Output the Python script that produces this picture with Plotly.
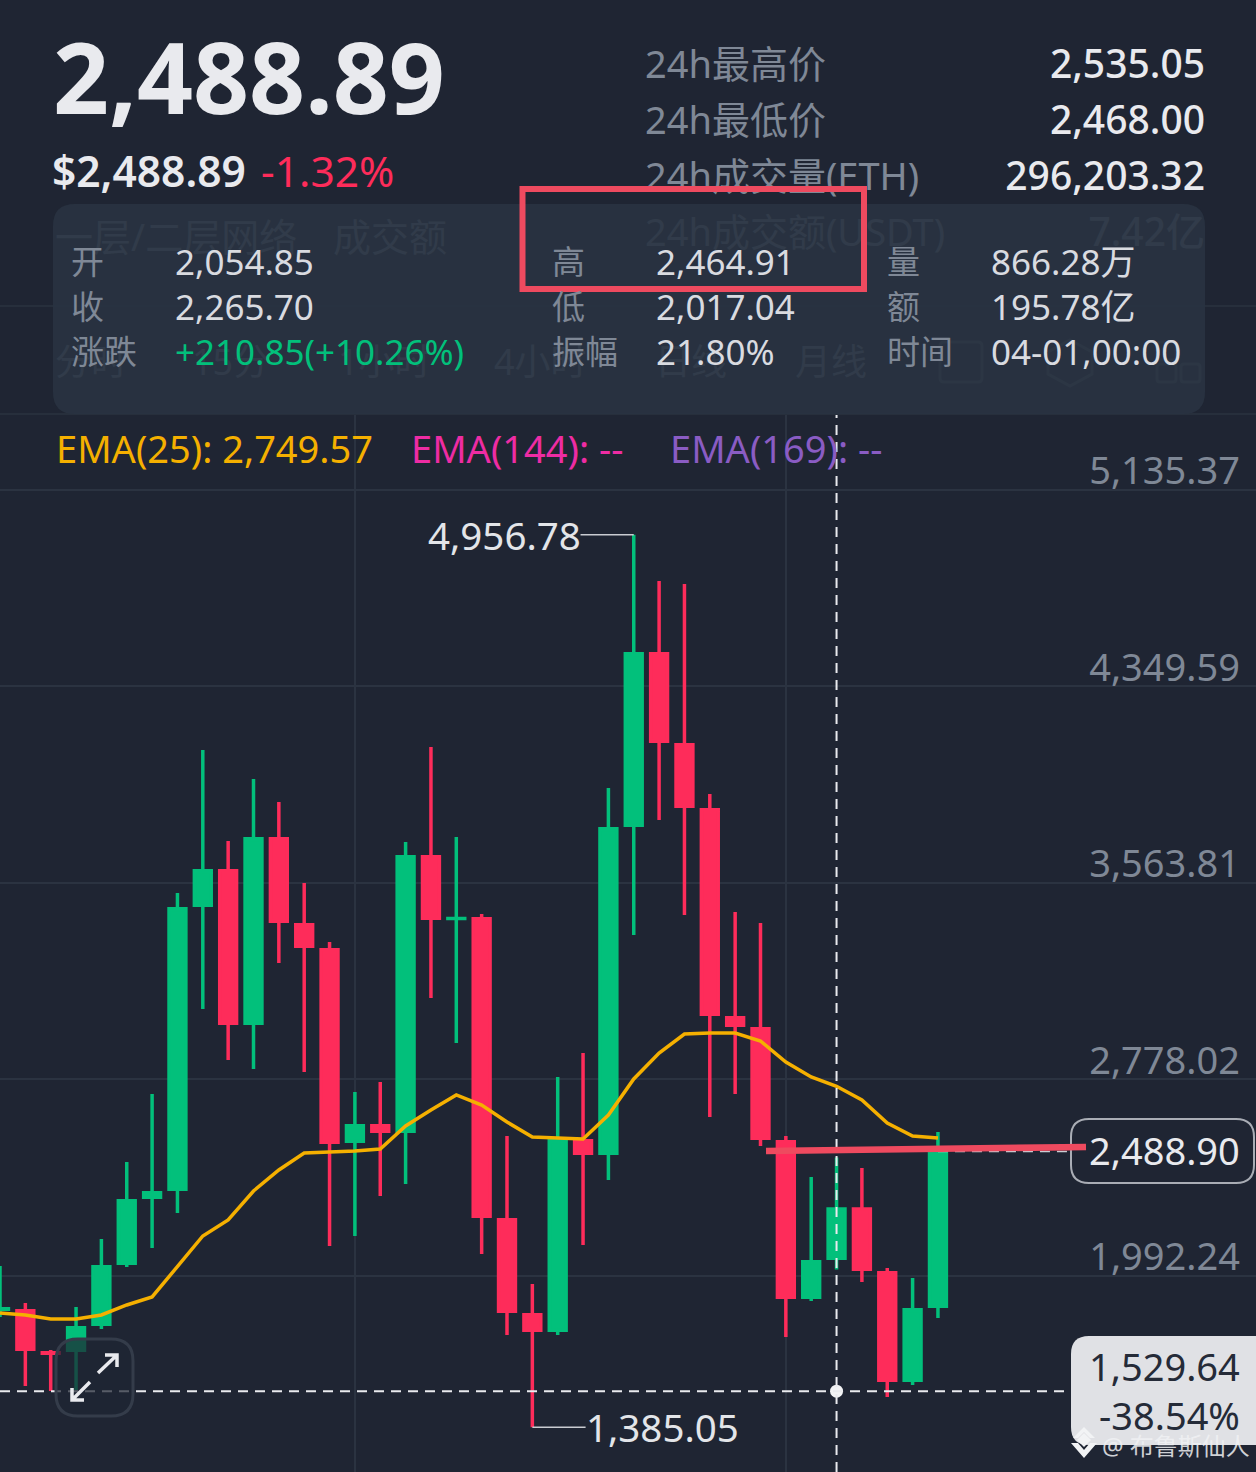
import plotly.graph_objects as go

W, H = 1256, 1472
BG = "#1f2533"
GREEN = "#02c07b"
RED = "#fe2c5a"
GREY = "#7f8896"
WHITE = "#e9eaee"
FONT = "Noto Sans, Noto Sans CJK SC, sans-serif"

# candles
opens = [1850.6, 1858.6, 1690.5, 1686.5, 1790.5, 2034.6, 2298.7, 2330.7, 3467.0, 3619.0,
         2994.8, 3747.0, 3403.0, 3303.0, 2522.7, 2598.7, 2562.7, 3675.0, 3415.0, 3427.0,
         2222.6, 1842.6, 1766.5, 2538.7, 2474.7, 3787.0, 4487.2, 4123.1, 3863.1, 3030.9,
         2986.8, 2534.7, 1898.6, 2054.85, 2265.7, 2010.6, 1566.5, 1862.6]
highs = [2030.6, 1882.6, 1694.5, 1866.6, 2138.6, 2446.7, 2718.8, 3523.0, 4095.1, 3731.0,
         3979.1, 3887.1, 3563.0, 3326.9, 2726.8, 2766.8, 3727.0, 4107.1, 3747.0, 3439.0,
         2550.7, 1958.6, 2786.8, 2882.8, 3943.1, 4956.78, 4771.3, 4759.3, 3919.1, 3447.0,
         3403.0, 2550.7, 2386.7, 2464.91, 2422.7, 2022.6, 1982.6, 2566.7]
lows = [1826.6, 1550.5, 1530.5, 1534.5, 1778.5, 2026.6, 2102.6, 2242.6, 3058.9, 2854.8,
        2818.8, 3243.0, 2806.8, 2110.6, 2150.6, 2310.7, 2358.7, 3102.9, 2922.8, 2078.6,
        1754.5, 1385.05, 1754.5, 2114.6, 2374.7, 3355.0, 3815.1, 3435.0, 2626.7, 2718.8,
        2510.7, 1746.5, 1890.6, 2017.04, 1966.6, 1506.5, 1554.5, 1822.6]
closes = [1866.6, 1690.5, 1674.5, 1790.5, 2034.6, 2298.7, 2330.7, 3467.0, 3619.0, 2994.8,
          3747.0, 3403.0, 3303.0, 2518.7, 2598.7, 2562.7, 3675.0, 3415.0, 3427.0, 2222.6,
          1842.6, 1766.5, 2538.7, 2474.7, 3787.0, 4487.2, 4123.1, 3863.1, 3030.9, 2986.8,
          2534.7, 1898.6, 2054.85, 2265.7, 2010.6, 1566.5, 1862.6, 2488.9]
ema25 = [1842.6, 1834.6, 1818.6, 1818.6, 1834.6, 1874.6, 1906.6, 2026.6, 2150.6, 2214.6,
         2330.7, 2414.7, 2482.7, 2486.7, 2490.7, 2498.7, 2590.7, 2654.7, 2714.8, 2674.7,
         2606.7, 2546.7, 2542.7, 2538.7, 2634.7, 2778.8, 2882.8, 2958.8, 2962.8, 2962.8,
         2930.8, 2846.8, 2786.8, 2749.57, 2694.8, 2602.7, 2550.7, 2542.7]
candle_idx = list(range(len(opens)))

price_ticks = [5135.37, 4349.59, 3563.81, 2778.02, 1992.24, 1206.46]
price_tick_labels = ["5,135.37", "4,349.59", "3,563.81", "2,778.02", "1,992.24", "1,206.46"]
time_grid_idx = [14, 31]

last_price = 2488.90
cross_idx = 33
cross_price = 1529.64
high_idx, high_price = 25, 4956.78
low_idx, low_price = 21, 1385.05

stats_names = ["24h最高价", "24h最低价", "24h成交量(ETH)", "24h成交额(USDT)"]
stats_values = ["2,535.05", "2,468.00", "296,203.32", "7.42亿"]
ghost_tabs = ["分时", "15分", "1小时", "4小时", "日线", "月线"]
ghost_tab_x = [55, 192, 338, 494, 655, 795]
panel_names = [["开", "收", "涨跌"], ["高", "低", "振幅"], ["量", "额", "时间"]]
panel_values = [["2,054.85", "2,265.70", "+210.85(+10.26%)"],
                ["2,464.91", "2,017.04", "21.80%"],
                ["866.28万", "195.78亿", "04-01,00:00"]]


def page_text(x, y, text, size, color, right=False, weight=400):
    # goes on the lower page layer, so candles and the panel cover it
    return go.Scatter(x=[x], y=[y], text=[text], mode="text", xaxis="x", yaxis="y",
                      textposition="middle left" if right else "middle right",
                      textfont=dict(family=FONT, size=size, color=color, weight=weight),
                      hoverinfo="skip", showlegend=False)


def label(x, y, text, size, color, anchor="left", weight=400, xref="x", yref="y"):
    return dict(x=x, y=y, xref=xref, yref=yref, text=text, showarrow=False,
                xanchor=anchor, yanchor="middle",
                font=dict(family=FONT, size=size, color=color, weight=weight))


def round_rect(x0, y0, x1, y1, r):
    return (f"M{x0 + r},{y0} L{x1 - r},{y0} Q{x1},{y0} {x1},{y0 + r} L{x1},{y1 - r} "
            f"Q{x1},{y1} {x1 - r},{y1} L{x0 + r},{y1} Q{x0},{y1} {x0},{y1 - r} "
            f"L{x0},{y0 + r} Q{x0},{y0} {x0 + r},{y0} Z")


def diamond(cx, cy, r):
    return f"M{cx},{cy - r} L{cx + r},{cy} L{cx},{cy + r} L{cx - r},{cy} Z"


def page_shape(path=None, fill=None, line=None, width=0, layer="above", **kw):
    d = dict(xref="x", yref="y", layer=layer, line=dict(color=line, width=width))
    if path:
        d.update(type="path", path=path)
    if fill:
        d["fillcolor"] = fill
    d.update(kw)
    return d


def trim_body(o, c, inset=7.0):
    # the 3.5px body stroke sticks out 1.75px (about 7 in price) past open and close
    sign = 1 if c >= o else -1
    if abs(c - o) <= 2 * inset:
        mid = (o + c) / 2
        return mid - sign * 0.05, mid + sign * 0.05
    return o + sign * inset, c - sign * inset


trimmed = [trim_body(o, c) for o, c in zip(opens, closes)]

fig = go.Figure()

# page text lying under the panel and the red box
fig.add_trace(page_text(53, 89, "2,488.89", 98, WHITE, weight=700))
fig.add_trace(page_text(52, 176, "$2,488.89", 42.5, WHITE, weight=600))
fig.add_trace(page_text(261, 176, "-1.32%", 42.5, RED))
for i, (name, value) in enumerate(zip(stats_names, stats_values)):
    fig.add_trace(page_text(645, 68 + 56 * i, name, 38, GREY))
    color = GREY if i == 3 else WHITE
    fig.add_trace(page_text(1205, 68 + 56 * i, value, 39, color, right=True, weight=500))
fig.add_trace(page_text(55, 241, "一层/二层网络", 38, GREY))
fig.add_trace(page_text(333, 241, "成交额", 38, GREY))
for x, tab in zip(ghost_tab_x, ghost_tabs):
    fig.add_trace(page_text(x, 366, tab, 36, GREY))
fig.add_trace(page_text(519, 906, "BINANCE", 66, "#283240", weight=700))
# plotly drops an inside tick label this close to the axis end, and the box half covers it
fig.add_trace(page_text(1240, 1455, price_tick_labels[-1], 38, GREY, right=True))

fig.add_trace(go.Candlestick(
    x=candle_idx, open=[t[0] for t in trimmed], high=highs, low=lows, close=[t[1] for t in trimmed],
    xaxis="x2", yaxis="y2", whiskerwidth=0, hoverinfo="skip", showlegend=False,
    increasing=dict(line=dict(color=GREEN, width=3.5), fillcolor=GREEN),
    decreasing=dict(line=dict(color=RED, width=3.5), fillcolor=RED),
))
fig.add_trace(go.Scatter(x=candle_idx, y=ema25, mode="lines", xaxis="x2", yaxis="y2",
                         line=dict(color="#f5b000", width=3.5), hoverinfo="skip", showlegend=False))
fig.add_trace(go.Scatter(x=[cross_idx], y=[cross_price], mode="markers", xaxis="x2", yaxis="y2",
                         marker=dict(color="#f2f3f5", size=13), hoverinfo="skip", showlegend=False))

chart_top = 5435.4
chart_bottom = 1206.39
shapes = [
    # rules and ghost icons behind the panel
    page_shape(type="line", x0=0, x1=W, y0=306, y1=306, line="#2b3341", width=1.5, layer="below"),
    page_shape(type="line", x0=0, x1=W, y0=414, y1=414, line="#2b3341", width=1.5, layer="below"),
    page_shape(path=round_rect(940, 342, 982, 382, 4), line="#4a5362", width=3, layer="below"),
    page_shape(path="M1070,340 L1092,352 L1092,374 L1070,386 L1048,374 L1048,352 Z",
               line="#4a5362", width=3, layer="below"),
    page_shape(path=round_rect(1157, 342, 1176, 360, 3), line="#4a5362", width=3, layer="below"),
    page_shape(path=round_rect(1157, 364, 1176, 382, 3), line="#4a5362", width=3, layer="below"),
    page_shape(path=round_rect(1181, 364, 1200, 382, 3), line="#4a5362", width=3, layer="below"),
    # Binance watermark mark
    page_shape(path=diamond(468, 908, 13), fill="#283240", layer="below"),
    page_shape(path=diamond(437, 908, 11), fill="#283240", layer="below"),
    page_shape(path=diamond(499, 908, 11), fill="#283240", layer="below"),
    page_shape(path="M468,868 L496,896 L487,905 L468,886 L449,905 L440,896 Z", fill="#283240", layer="below"),
    page_shape(path="M468,948 L496,920 L487,911 L468,930 L449,911 L440,920 Z", fill="#283240", layer="below"),
    # info panel
    page_shape(path=round_rect(53, 204, 1205, 414, 22), fill="rgba(41,51,65,0.9)"),
    # high / low leaders
    dict(type="line", xref="x2", yref="y2", x0=high_idx, x1=high_idx - 2.1, y0=high_price, y1=high_price,
         line=dict(color="#c9ccd2", width=1.5)),
    dict(type="line", xref="x2", yref="y2", x0=low_idx, x1=low_idx + 2.1, y0=low_price, y1=low_price,
         line=dict(color="#c9ccd2", width=1.5)),
    # crosshair and last price
    dict(type="line", xref="x2", yref="y2", x0=cross_idx, x1=cross_idx, y0=chart_bottom, y1=chart_top,
         line=dict(color="#e9eaee", width=2, dash="10px,7px")),
    dict(type="line", xref="x", yref="y2", x0=0, x1=1240, y0=cross_price, y1=cross_price,
         line=dict(color="#e9eaee", width=2, dash="10px,7px")),
    dict(type="line", xref="x2", yref="y2", x0=37, x1=42.2, y0=last_price, y1=last_price,
         line=dict(color="#c9cdd3", width=1.5, dash="10px,7px")),
    # price boxes
    page_shape(path=round_rect(1071, 1119, 1254, 1183, 18), fill=BG, line="#a9adb5", width=2),
    page_shape(path=round_rect(1071, 1336, 1275, 1445, 18), fill="#e0e1e5"),
    # expand button
    page_shape(path=round_rect(56, 1339, 133, 1416, 22), fill="rgba(31,37,51,0.72)", line="#343c4a", width=3),
    page_shape(path="M98,1373 L117,1355 M105,1355 L117,1355 L117,1367", line="#e9eaee", width=3.5),
    page_shape(path="M90,1382 L72,1400 M72,1388 L72,1400 L84,1400", line="#e9eaee", width=3.5),
    # hand drawn marks
    page_shape(path=round_rect(522.5, 189, 864, 289, 0), line="#ee4a5f", width=6),
    page_shape(type="line", x0=766, x1=1086, y0=1151, y1=1147, line="#ee4a5f", width=6.5),
    # image credit mark
    page_shape(path=diamond(1084, 1440, 7), fill="#f2f3f5"),
    page_shape(path="M1071,1443 L1084,1458 L1097,1443 L1090,1443 L1084,1450 L1078,1443 Z", fill="#f2f3f5"),
    page_shape(path="M1073,1438 L1084,1427 L1095,1438 L1090,1438 L1084,1432 L1078,1438 Z", fill="#f2f3f5"),
]

annotations = []
for col_x, val_x, names, values in zip([69, 550, 885], [173, 654, 989], panel_names, panel_values):
    for i, (name, value) in enumerate(zip(names, values)):
        annotations.append(label(col_x, 261 + 45 * i, name, 33, GREY))
        color = GREEN if value.startswith("+") else "#d9dbe0"
        annotations.append(label(val_x, 261 + 45 * i, value, 35, color))

annotations += [
    label(54, 448, "EMA(25): 2,749.57", 38, "#f5b000"),
    label(409, 448, "EMA(144): --", 38, "#ee2ca3"),
    label(668, 448, "EMA(169): --", 38, "#8a5cc4"),
    label(high_idx - 2.0, high_price, "4,956.78", 38.5, "#e3e5e9", anchor="right", xref="x2", yref="y2"),
    label(low_idx + 2.05, low_price, "1,385.05", 38.5, "#e3e5e9", xref="x2", yref="y2"),
    label(1242, 1150, "2,488.90", 38, WHITE, anchor="right"),
    label(1242, 1366, "1,529.64", 38, "#252b38", anchor="right"),
    label(1242, 1415, "-38.54%", 38, "#252b38", anchor="right"),
    label(1100, 1445, "@ 布鲁斯仙人", 24, "rgba(240,241,244,0.85)"),
]

fig.update_layout(
    width=W, height=H, autosize=False,
    margin=dict(l=0, r=0, t=0, b=0, pad=0),
    paper_bgcolor=BG, plot_bgcolor=BG,
    font=dict(family=FONT),
    showlegend=False, hovermode=False, boxgap=0.05,
    shapes=shapes, annotations=annotations,
    # page layer in pixels
    xaxis=dict(range=[0, W], visible=False, domain=[0, 1], fixedrange=True),
    yaxis=dict(range=[H, 0], visible=False, domain=[0, 1], fixedrange=True),
    # price chart, 25.35 px a candle
    xaxis2=dict(range=[0, W / 25.35], domain=[0, 1], anchor="y2", rangeslider=dict(visible=False),
                tickmode="array", tickvals=time_grid_idx, showticklabels=False, ticks="",
                showgrid=True, gridcolor="#2b3341", gridwidth=1.5, zeroline=False, showline=False),
    yaxis2=dict(range=[chart_bottom, chart_top], domain=[0, 1 - 415 / H], anchor="x2", side="right",
                tickmode="array", tickvals=price_ticks, ticktext=price_tick_labels[:-1] + [""],
                ticklabelposition="inside", ticklabelstandoff=13, ticklabelshift=-19, ticks="",
                tickfont=dict(family=FONT, size=38, color=GREY),
                showgrid=True, gridcolor="#2b3341", gridwidth=1.5, zeroline=False, showline=False),
)

fig.write_html("out.html", config=dict(displayModeBar=False),
               post_script="document.body.style.margin='0';document.body.style.overflow='hidden';")
